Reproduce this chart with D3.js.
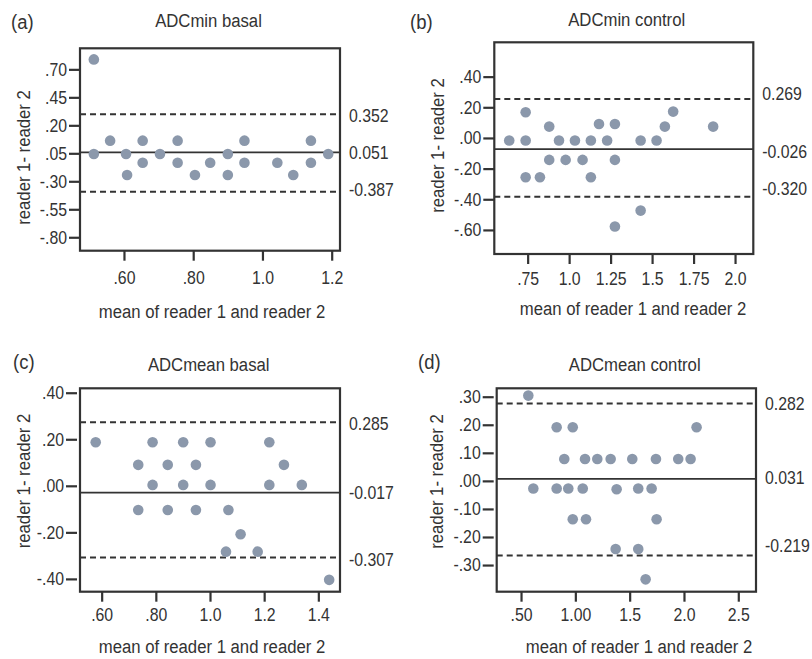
<!DOCTYPE html>
<html>
<head>
<meta charset="utf-8">
<script src="https://cdn.jsdelivr.net/npm/d3@7"></script>
<style>
  html, body { margin: 0; padding: 0; background: #fff; }
  svg { display: block; }
  text { font-family: "Liberation Sans", Arial, sans-serif; fill: #333; }
</style>
</head>
<body>
<svg id="chart" width="812" height="659"></svg>
<script>
// ---------- DATA ----------
// (a) ADCmin basal
const aMean = [0.513, 0.513, 0.560, 0.606, 0.609, 0.654, 0.654, 0.704, 0.755, 0.755, 0.805, 0.849, 0.900, 0.900, 0.948, 0.948, 1.043, 1.089, 1.140, 1.140, 1.190];
const aDiff = [0.789, -0.056, 0.063, -0.056, -0.244, 0.063, -0.134, -0.056, 0.063, -0.134, -0.244, -0.134, -0.056, -0.244, 0.063, -0.134, -0.134, -0.244, 0.063, -0.134, -0.056];
const aXTicks = [0.6, 0.8, 1.0, 1.2];
const aXTickLabels = [".60", ".80", "1.0", "1.2"];
const aYTicks = [0.70, 0.45, 0.20, -0.05, -0.30, -0.55, -0.80];
const aYTickLabels = [".70", ".45", ".20", ".05", "-.30", "-.55", "-.80"];
const aLinePos = [0.298, -0.041, -0.393];
const aLineLabels = ["0.352", "0.051", "-0.387"];
const aLabelPos = [0.290, -0.041, -0.378];

// (b) ADCmin control
const bMean = [0.639, 0.738, 0.738, 0.738, 0.824, 0.880, 0.880, 0.939, 0.979, 1.035, 1.081, 1.131, 1.131, 1.180, 1.229, 1.276, 1.276, 1.276, 1.431, 1.431, 1.527, 1.577, 1.627, 1.868];
const bDiff = [-0.017, 0.168, -0.017, -0.256, -0.256, 0.074, -0.143, -0.017, -0.143, -0.017, -0.143, -0.017, -0.256, 0.091, -0.017, 0.091, -0.143, -0.578, -0.017, -0.474, -0.017, 0.074, 0.172, 0.074];
const bXTicks = [0.75, 1.0, 1.25, 1.5, 1.75, 2.0];
const bXTickLabels = [".75", "1.0", "1.25", "1.5", "1.75", "2.0"];
const bYTicks = [0.4, 0.2, 0.0, -0.2, -0.4, -0.6];
const bYTickLabels = [".40", ".20", ".00", "-.20", "-.40", "-.60"];
const bLinePos = [0.254, -0.073, -0.383];
const bLineLabels = ["0.269", "-0.026", "-0.320"];
const bLabelPos = [0.287, -0.089, -0.333];

// (c) ADCmean basal
const cMean = [0.578, 0.735, 0.735, 0.788, 0.788, 0.844, 0.844, 0.901, 0.901, 0.948, 0.948, 1.002, 1.002, 1.068, 1.059, 1.113, 1.176, 1.219, 1.219, 1.273, 1.339, 1.440];
const cDiff = [0.187, 0.090, -0.104, 0.187, 0.004, 0.090, -0.104, 0.187, 0.004, 0.090, -0.104, 0.187, 0.004, -0.104, -0.283, -0.208, -0.283, 0.187, 0.004, 0.090, 0.004, -0.404];
const cXTicks = [0.6, 0.8, 1.0, 1.2, 1.4];
const cXTickLabels = [".60", ".80", "1.0", "1.2", "1.4"];
const cYTicks = [0.4, 0.2, 0.0, -0.2, -0.4];
const cYTickLabels = [".40", ".20", ".00", "-.20", "-.40"];
const cLinePos = [0.273, -0.029, -0.308];
const cLineLabels = ["0.285", "-0.017", "-0.307"];
const cLabelPos = [0.269, -0.030, -0.318];

// (d) ADCmean control
const dMean = [0.567, 0.613, 0.828, 0.828, 0.898, 0.935, 0.976, 0.976, 1.068, 1.089, 1.098, 1.202, 1.325, 1.371, 1.380, 1.524, 1.579, 1.579, 1.647, 1.702, 1.742, 1.748, 1.947, 2.061, 2.116];
const dDiff = [0.304, -0.027, 0.191, -0.027, 0.078, -0.027, 0.191, -0.137, -0.027, 0.078, -0.137, 0.078, 0.078, -0.243, -0.030, 0.078, -0.027, -0.243, -0.351, -0.027, 0.078, -0.137, 0.078, 0.078, 0.191];
const dXTicks = [0.5, 1.0, 1.5, 2.0, 2.5];
const dXTickLabels = [".50", "1.00", "1.5", "2.0", "2.5"];
const dYTicks = [0.3, 0.2, 0.1, 0.0, -0.1, -0.2, -0.3];
const dYTickLabels = [".30", ".20", ".10", ".00", "-.10", "-.20", "-.30"];
const dLinePos = [0.276, 0.007, -0.266];
const dLineLabels = ["0.282", "0.031", "-0.219"];
const dLabelPos = [0.274, 0.012, -0.231];

const xAxisTitle = "mean of reader 1 and reader 2";
const yAxisTitle = "reader 1- reader 2";

// ---------- LAYOUT ----------
const panels = [
  { tag: "(a)", title: "ADCmin basal", mean: aMean, diff: aDiff,
    xTicks: aXTicks, xTickLabels: aXTickLabels, yTicks: aYTicks, yTickLabels: aYTickLabels,
    linePos: aLinePos, lineLabels: aLineLabels, labelPos: aLabelPos,
    box: { l: 80, r: 340, t: 48.3, b: 250.7 }, xDom: [0.473, 1.224], yDom: [-0.92, 0.888],
    tagXY: [11, 29], titleXY: [208.5, 27], xTitleXY: [212, 318], yTitleXY: [29.5, 157.5],
    xPad: 11, yGap: 0 },
  { tag: "(b)", title: "ADCmin control", mean: bMean, diff: bDiff,
    xTicks: bXTicks, xTickLabels: bXTickLabels, yTicks: bYTicks, yTickLabels: bYTickLabels,
    linePos: bLinePos, lineLabels: bLineLabels, labelPos: bLabelPos,
    box: { l: 494.3, r: 753.3, t: 42.3, b: 254 }, xDom: [0.549, 2.11], yDom: [-0.757, 0.624],
    tagXY: [410, 29], titleXY: [626.7, 26], xTitleXY: [633, 315], yTitleXY: [443.5, 145.5],
    xPad: 8, yGap: 0 },
  { tag: "(c)", title: "ADCmean basal", mean: cMean, diff: cDiff,
    xTicks: cXTicks, xTickLabels: cXTickLabels, yTicks: cYTicks, yTickLabels: cYTickLabels,
    linePos: cLinePos, lineLabels: cLineLabels, labelPos: cLabelPos,
    box: { l: 80, r: 340, t: 388.3, b: 591.7 }, xDom: [0.52, 1.48], yDom: [-0.455, 0.419],
    tagXY: [13, 368.5], titleXY: [208.7, 370.5], xTitleXY: [212, 653], yTitleXY: [29.5, 481],
    xPad: 7, yGap: 3 },
  { tag: "(d)", title: "ADCmean control", mean: dMean, diff: dDiff,
    xTicks: dXTicks, xTickLabels: dXTickLabels, yTicks: dYTicks, yTickLabels: dYTickLabels,
    linePos: dLinePos, lineLabels: dLineLabels, labelPos: dLabelPos,
    box: { l: 496.7, r: 756, t: 388.3, b: 591.7 }, xDom: [0.276, 2.663], yDom: [-0.395, 0.33],
    tagXY: [418, 368.5], titleXY: [634.7, 370.5], xTitleXY: [639, 653], yTitleXY: [442.5, 481.5],
    xPad: 7, yGap: 3 }
];

const ink = "#333";
const dotColor = "#8b98ab";
const SX = 0.88; // horizontal squeeze of the lettering
const svg = d3.select("#chart");

function label(parent, x, y, str, size, anchor, rot, dy) {
  const gg = parent.append("g")
    .attr("transform", `translate(${x},${y})` + (rot ? ` rotate(${rot})` : "") + ` scale(${SX},1)`);
  gg.append("text").attr("text-anchor", anchor || "start")
    .attr("dy", dy || null)
    .style("font-size", size + "px").text(str);
  return gg;
}

panels.forEach(p => {
  const g = svg.append("g");
  const x = d3.scaleLinear().domain(p.xDom).range([p.box.l, p.box.r]);
  const y = d3.scaleLinear().domain(p.yDom).range([p.box.b, p.box.t]);

  // tag & title
  label(g, p.tagXY[0], p.tagXY[1], p.tag, 21, "start");
  label(g, p.titleXY[0], p.titleXY[1], p.title, 19, "middle");

  // reference lines
  p.linePos.forEach((v, i) => {
    g.append("line")
      .attr("x1", p.box.l).attr("x2", p.box.r)
      .attr("y1", y(v)).attr("y2", y(v))
      .attr("stroke", ink)
      .attr("stroke-width", i === 1 ? 1.7 : 2)
      .attr("stroke-dasharray", i === 1 ? null : "6,4");
    label(g, p.box.r + 9, y(p.labelPos[i]), p.lineLabels[i], 18, "start", 0, "0.35em");
  });

  // points
  g.append("g").selectAll("circle")
    .data(p.mean.map((m, i) => ({ m, d: p.diff[i] })))
    .join("circle")
    .attr("cx", d => x(d.m)).attr("cy", d => y(d.d))
    .attr("r", 5.3).attr("fill", dotColor);

  // frame
  g.append("rect")
    .attr("x", p.box.l).attr("y", p.box.t)
    .attr("width", p.box.r - p.box.l).attr("height", p.box.b - p.box.t)
    .attr("fill", "none").attr("stroke", ink).attr("stroke-width", 2.2);

  // x axis
  const xa = g.append("g").attr("transform", `translate(0,${p.box.b})`)
    .call(d3.axisBottom(x).tickValues(p.xTicks)
      .tickFormat((d, i) => p.xTickLabels[i]).tickSize(10).tickSizeOuter(0).tickPadding(p.xPad));
  xa.select(".domain").remove();
  xa.selectAll(".tick line").attr("stroke", ink).attr("stroke-width", 2.2);
  xa.selectAll(".tick text").style("font-size", "18px").attr("fill", ink)
    .attr("transform", `scale(${SX},1)`)
    .style("font-family", "'Liberation Sans', Arial, sans-serif");

  // y axis
  const ya = g.append("g").attr("transform", `translate(${p.box.l - p.yGap},0)`)
    .call(d3.axisLeft(y).tickValues(p.yTicks)
      .tickFormat((d, i) => p.yTickLabels[i]).tickSize(11).tickSizeOuter(0).tickPadding(2));
  ya.select(".domain").remove();
  ya.selectAll(".tick line").attr("stroke", ink).attr("stroke-width", 2.2);
  ya.selectAll(".tick text").style("font-size", "18px").attr("fill", ink)
    .attr("transform", `scale(${SX},1)`)
    .attr("x", -13 / SX)
    .style("font-family", "'Liberation Sans', Arial, sans-serif");

  // axis titles
  label(g, p.xTitleXY[0], p.xTitleXY[1], xAxisTitle, 19, "middle");
  const yt = g.append("g")
    .attr("transform", `translate(${p.yTitleXY[0]},${p.yTitleXY[1]}) rotate(-90) scale(${SX},1)`);
  yt.append("text").attr("text-anchor", "middle").style("font-size", "19px").text(yAxisTitle);
});
</script>
</body>
</html>
